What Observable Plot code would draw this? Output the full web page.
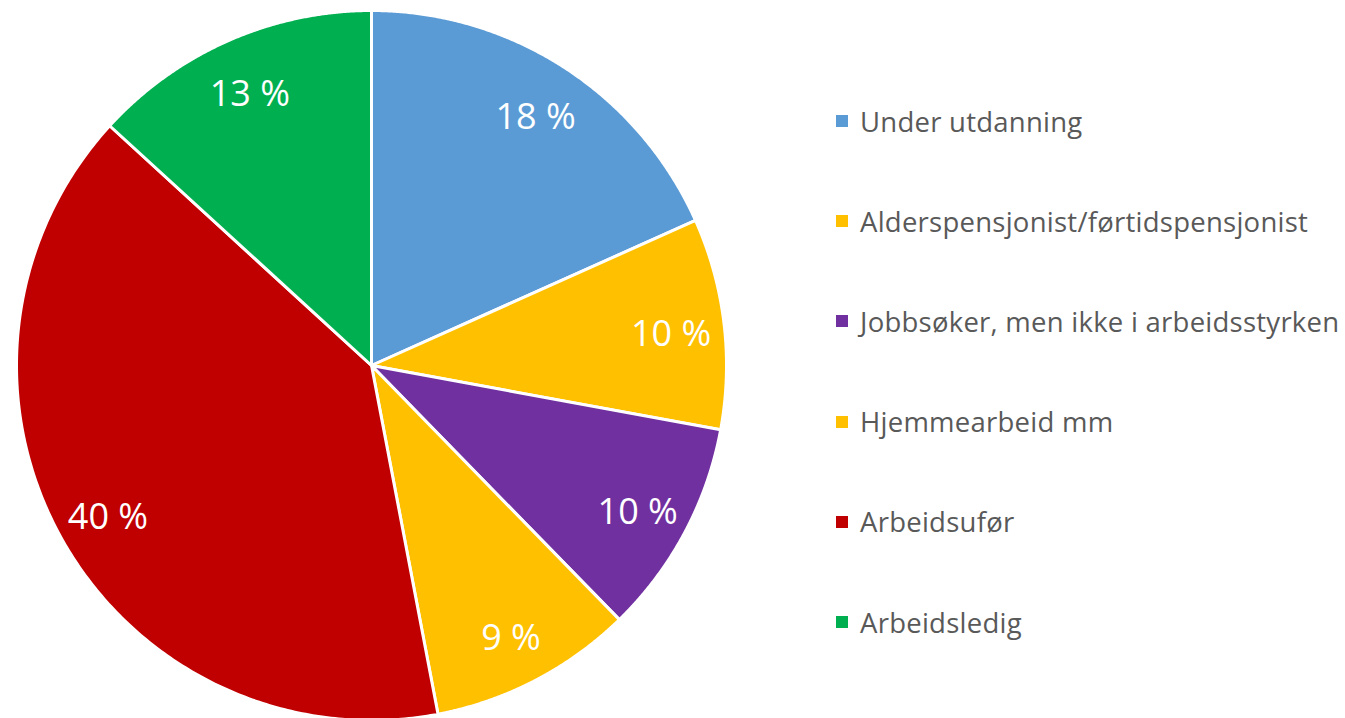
<!DOCTYPE html>
<html>
<head>
<meta charset="utf-8">
<script src="https://cdn.jsdelivr.net/npm/d3@7"></script>
<script src="https://cdn.jsdelivr.net/npm/@observablehq/plot@0.6"></script>
<style>
  html, body { margin: 0; padding: 0; background: #fff; }
  #wrap { position: relative; width: 1345px; height: 718px; overflow: hidden; }
  #legend { position: absolute; left: 836px; top: 71px; font-family: "Open Sans", sans-serif; font-size: 27.5px; letter-spacing: 0.25px; color: #595959; }
  .row { height: 100.2px; display: flex; align-items: center; white-space: nowrap; }
  .sw { width: 12px; height: 12px; margin-right: 12px; flex: none; }
</style>
</head>
<body>
<div id="wrap"><div id="chart"></div><div id="legend"></div></div>
<script>
const categories = ["Under utdanning", "Alderspensjonist/førtidspensjonist", "Jobbsøker, men ikke i arbeidsstyrken", "Hjemmearbeid mm", "Arbeidsufør", "Arbeidsledig"];
const values = [18.3, 9.6, 9.8, 9.3, 39.8, 13.2];
const labels = ["18 %", "10 %", "10 %", "9 %", "40 %", "13 %"];
const colors = ["#5B9BD5", "#FFC000", "#7030A0", "#FFC000", "#C00000", "#00B050"];

const arcs = d3.pie().sort(null).value(d => d)(values);
const slicePts = [];
const labelPts = [];
arcs.forEach((a, i) => {
  const n = 240;
  slicePts.push({category: categories[i], x: 0, y: 0});
  for (let k = 0; k <= n; k++) {
    const t = a.startAngle + (a.endAngle - a.startAngle) * k / n;
    slicePts.push({category: categories[i], x: Math.sin(t), y: Math.cos(t)});
  }
  const m = (a.startAngle + a.endAngle) / 2;
  labelPts.push({label: labels[i], x: 0.85 * Math.sin(m), y: 0.85 * Math.cos(m)});
});

const chart = Plot.plot({
  width: 1345,
  height: 718,
  margin: 0,
  x: {domain: [-1, 1], range: [16, 726], axis: null},
  y: {domain: [-1, 1], range: [720, 10], axis: null},
  color: {domain: categories, range: colors},
  marks: [
    Plot.line(slicePts, {x: "x", y: "y", z: "category", fill: "category", stroke: "white", strokeWidth: 3, curve: "linear-closed", strokeLinejoin: "round"}),
    Plot.text(labelPts, {x: "x", y: "y", text: "label", fill: "white", fontSize: 36, fontFamily: "Open Sans", textAnchor: "middle", lineAnchor: "middle", dy: 5})
  ],
  style: {fontFamily: "Open Sans", background: "white"}
});
document.getElementById("chart").appendChild(chart);

const legend = document.getElementById("legend");
categories.forEach((c, i) => {
  const row = document.createElement("div");
  row.className = "row";
  const sw = document.createElement("span");
  sw.className = "sw";
  sw.style.background = colors[i];
  const tx = document.createElement("span");
  tx.textContent = c;
  row.appendChild(sw);
  row.appendChild(tx);
  legend.appendChild(row);
});
</script>
</body>
</html>
